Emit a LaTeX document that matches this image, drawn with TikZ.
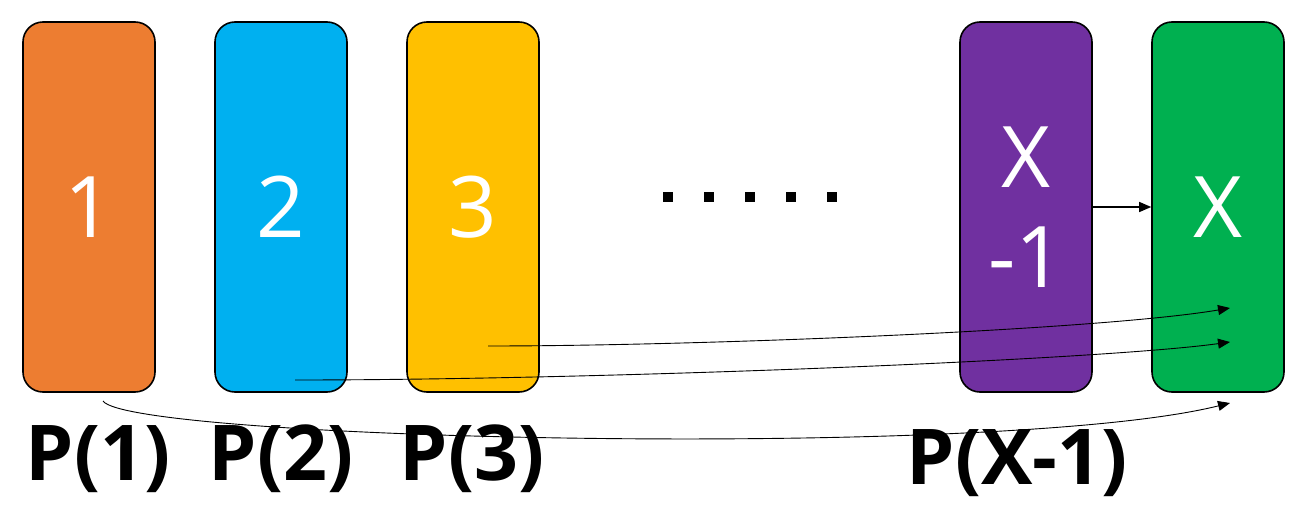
\documentclass[tikz,border=0pt]{standalone}
\usepackage{fontspec}
\setmainfont{Open Sans}
\usetikzlibrary{arrows.meta,positioning}
\definecolor{porange}{HTML}{ED7D31}
\definecolor{pblue}{HTML}{00B0F0}
\definecolor{pyellow}{HTML}{FFC000}
\definecolor{ppurple}{HTML}{7030A0}
\definecolor{pgreen}{HTML}{00B050}

\begin{document}
\begin{tikzpicture}[
  x=1pt,y=-1pt,
  box/.style={draw,line width=1.6pt,rounded corners=20pt,minimum width=132pt,minimum height=370pt,inner sep=0pt,text=white,align=center,font=\fontsize{85}{100}\selectfont},
  plabel/.style={anchor=base,font=\fontsize{77}{90}\selectfont\bfseries},
  arrow/.style={-{Triangle[length=12pt,width=10pt]},line width=0.9pt}
]
\useasboundingbox (0,0) rectangle (1296,511);
\node[box,fill=porange] (one) at (89,207) {1};
\node[box,fill=pblue,right=58.4pt of one] (two) {2};
\node[box,fill=pyellow,right=58.4pt of two] (three) {3};
\node[box,fill=ppurple] (xminus) at (1026,207) {X\\-1};
\node[box,fill=pgreen,right=58.4pt of xminus] (x) {X};
\node[plabel] (p1) at (98,480) {P(1)};
\node[plabel] (p2) at (281,480) {P(2)};
\node[plabel] (p3) at (472,480) {P(3)};
\node[plabel] (pxm) at (1017,484) {P(X-1)};
\foreach \i in {0,...,4}
  \fill (663+41*\i,192) rectangle ++(10,10);
\coordinate (s1) at (103,401);
\coordinate (s2) at (295,380);
\coordinate (s3) at (488,346);
\coordinate (e1) at (1230,403);
\coordinate (e2) at (1230,342);
\coordinate (e3) at (1230,308);
\draw[arrow,line width=1.3pt] (xminus.east) -- (x.west);
\draw[arrow] (s3) .. controls (700,346) and (1100,330) .. (e3);
\draw[arrow] (s2) .. controls (600,380) and (1100,360) .. (e2);
\draw[arrow] (s1) .. controls (130,440) and (1000,460) .. (e1);
\end{tikzpicture}
\end{document}
